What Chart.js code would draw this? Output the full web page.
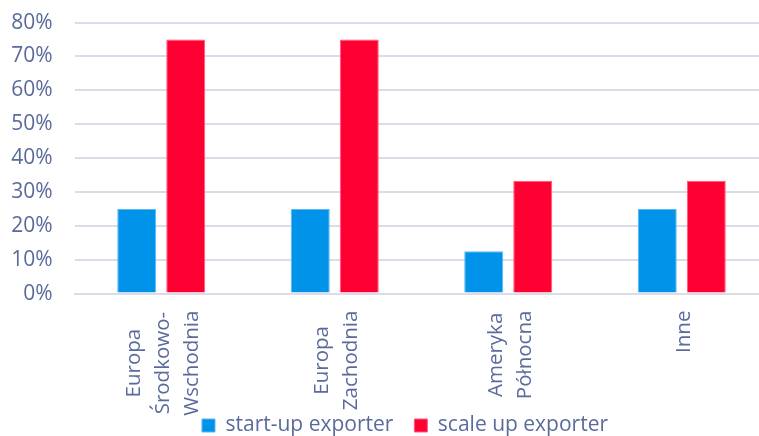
<!DOCTYPE html>
<html>
<head>
<meta charset="utf-8">
<script src="https://cdn.jsdelivr.net/npm/chart.js@4.4.1/dist/chart.umd.min.js"></script>
<style>
  html, body { margin: 0; padding: 0; background: #fff; }
  #wrap { width: 759px; height: 436px; overflow: hidden; position: relative; }
  #box { width: 810px; height: 458px; position: absolute; left: 0; top: -12px; }
</style>
</head>
<body>
<div id="wrap"><div id="box"><canvas id="myChart"></canvas></div></div>
<script>
// data
const categories = [
    ["Europa", "Środkowo-", "Wschodnia"],
    ["Europa", "Zachodnia"],
    ["Ameryka", "Północna"],
    ["Inne"]
]
const startUp = [25, 25, 12.5, 25]
const scaleUp = [75, 75, 33.3, 33.3]
const yTicks = [0, 10, 20, 30, 40, 50, 60, 70, 80]

const textColor = '#5a6a9c'
const gridColor = '#dadce9'
const fontFamily = '"Open Sans", sans-serif'
const fontSize = 21

// x labels are drawn here so lines can be centred like in the original
const xLabels = {
    id: 'xLabels',
    afterDraw(chart) {
        const ctx = chart.ctx
        const xs = chart.scales.x
        const lineGap = 29
        ctx.save()
        ctx.font = '20.5px ' + fontFamily
        ctx.fillStyle = textColor
        ctx.textAlign = 'center'
        ctx.textBaseline = 'middle'
        categories.forEach((lines, i) => {
            const x = xs.getPixelForValue(i) + 2
            const longest = Math.max(...lines.map(l => ctx.measureText(l).width))
            const yc = chart.chartArea.bottom + 17 + longest / 2
            lines.forEach((line, j) => {
                const off = (j - (lines.length - 1) / 2) * lineGap
                ctx.save()
                ctx.translate(x + off, yc)
                ctx.rotate(-Math.PI / 2)
                ctx.fillText(line, 0, 0)
                ctx.restore()
            })
        })
        ctx.restore()
    }
}

new Chart("myChart", {
    type: 'bar',
    data: {
        labels: categories.map(c => c.join(' ')),
        datasets: [
            {
                label: 'start-up exporter',
                data: startUp,
                backgroundColor: '#0093e9',
                borderColor: '#5cb6ef',
                borderWidth: 1,
                categoryPercentage: 0.565,
                barPercentage: 0.796
            },
            {
                label: 'scale up exporter',
                data: scaleUp,
                backgroundColor: '#ff0033',
                borderColor: '#ff5a78',
                borderWidth: 1,
                categoryPercentage: 0.565,
                barPercentage: 0.796
            }
        ]
    },
    options: {
        responsive: true,
        maintainAspectRatio: false,
        animation: false,
        layout: { padding: { top: 0, left: 0, right: 0, bottom: 0 } },
        plugins: {
            tooltip: { enabled: false },
            legend: {
                position: 'bottom',
                labels: {
                    boxWidth: 13,
                    boxHeight: 13,
                    padding: 21,
                    color: textColor,
                    font: { family: fontFamily, size: fontSize }
                }
            }
        },
        scales: {
            x: {
                grid: { display: false },
                border: { color: gridColor, width: 2 },
                ticks: { display: false },
                afterFit(scale) { scale.height = 100.4 }
            },
            y: {
                min: 0,
                max: 80,
                afterBuildTicks(scale) { scale.ticks = yTicks.map(v => ({ value: v })) },
                grid: { color: gridColor, lineWidth: 2, drawTicks: false },
                border: { display: false },
                ticks: {
                    padding: 22,
                    color: textColor,
                    font: { family: fontFamily, size: fontSize },
                    callback: v => v + '%'
                },
                afterFit(scale) { scale.width = 74.5 }
            },
            pad: {
                position: 'right',
                display: true,
                grid: { display: false },
                border: { display: false },
                ticks: { display: false },
                afterFit(scale) { scale.width = 41.5 }
            }
        }
    },
    plugins: [xLabels]
})
</script>
</body>
</html>
